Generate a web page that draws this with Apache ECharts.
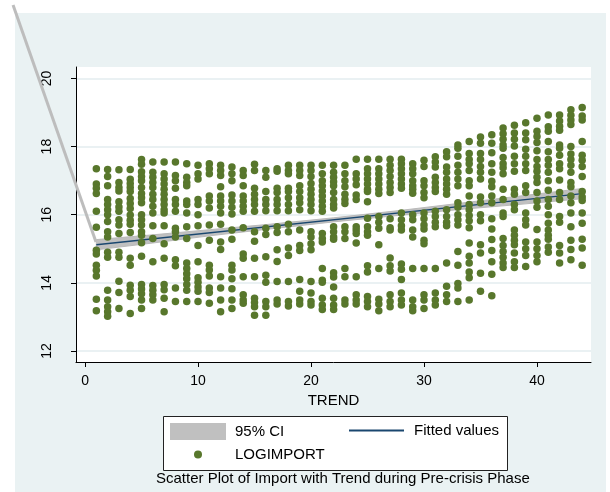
<!DOCTYPE html>
<html><head><meta charset="utf-8">
<script src="https://cdn.jsdelivr.net/npm/echarts@6/dist/echarts.min.js"></script>
<style>
html,body{margin:0;padding:0;background:#fff;}
#bg{position:absolute;left:15px;top:13px;width:591px;height:479px;background:#EAF2F3;}
#chart{position:absolute;left:0;top:0;width:610px;height:492px;}
</style></head><body>
<div id="bg"></div><div id="chart"></div>
<script>
// ---- data ----
const yTicks = [12, 14, 16, 18, 20];
const xTicks = [0, 10, 20, 30, 40];
const trend = [];
for (let t = 1; t <= 44; t++) trend.push(t);
// LOGIMPORT values read per TREND value (index 0 -> TREND 1)
const logImport = [
  [17.35,16.9,16.78,16.62,16.1,15.63,14.96,14.85,14.52,14.37,14.2,13.52,13.18],
  [17.33,17.12,16.85,16.45,16.3,16.15,16.0,15.8,15.5,15.35,14.9,14.75,13.78,13.5,13.3,13.15,13.02],
  [17.32,16.95,16.8,16.7,16.38,16.23,16.1,15.85,15.7,15.45,14.9,14.75,14.05,13.72,13.25],
  [17.33,17.04,16.92,16.8,16.68,16.48,16.33,16.18,15.99,15.84,15.72,15.48,14.72,14.52,13.93,13.78,13.6,13.1],
  [17.62,17.48,17.26,17.12,17.0,16.8,16.62,16.5,16.35,16.0,15.85,15.7,15.5,15.4,15.18,14.78,13.95,13.82,13.68,13.5,13.25],
  [17.55,17.25,17.1,16.95,16.8,16.6,16.45,16.25,16.05,15.68,15.3,14.62,13.92,13.78,13.65,13.5],
  [17.55,17.2,17.05,16.9,16.75,16.6,16.45,16.3,16.15,16.05,15.68,15.15,14.72,13.95,13.8,13.55,13.15],
  [17.55,17.15,17.0,16.78,16.45,16.3,16.1,15.6,15.5,15.35,14.68,14.5,13.85,13.45],
  [17.5,17.1,16.95,16.85,16.4,16.3,16.05,15.65,15.3,14.58,14.42,14.27,14.12,13.95,13.78,13.45],
  [17.45,17.2,17.05,16.45,16.3,16.0,15.68,15.1,14.62,14.15,14.02,13.88,13.75,13.45],
  [17.5,17.35,17.2,16.55,16.4,16.2,15.7,15.25,14.52,14.38,14.2,13.85,13.72,13.4],
  [17.45,17.3,17.15,16.82,16.55,16.4,16.25,16.05,15.72,15.2,14.98,14.18,13.85,13.5,13.15],
  [17.4,17.2,17.0,16.58,16.4,16.22,16.02,15.55,15.28,14.52,14.38,14.12,13.83,13.5,13.25],
  [17.3,17.15,16.85,16.55,16.4,16.25,16.1,15.62,14.85,14.72,14.18,13.65,13.5,13.4],
  [17.48,17.3,16.78,16.6,16.45,16.3,16.1,15.5,15.22,14.72,14.18,13.55,13.42,13.3,13.05],
  [17.3,17.1,16.68,16.45,16.3,16.12,15.6,15.42,14.77,14.22,14.02,13.45,13.3,13.05],
  [17.35,17.28,16.78,16.65,16.45,16.3,16.12,15.65,15.48,14.97,14.63,14.04,13.5,13.38],
  [17.45,17.3,17.2,16.78,16.68,16.5,16.3,16.12,15.72,15.5,15.02,14.8,14.04,13.45,13.32],
  [17.45,17.3,17.15,16.85,16.68,16.5,16.35,16.15,15.55,15.1,14.95,14.1,13.75,13.5,13.38],
  [17.45,17.3,17.12,16.92,16.75,16.6,16.45,16.3,16.12,15.5,15.35,15.15,14.97,14.04,13.7,13.45,13.35],
  [17.45,17.2,17.0,16.85,16.7,16.55,16.4,16.25,16.1,15.45,15.3,15.2,14.42,14.08,14.02,13.55,13.35,13.22],
  [17.45,17.25,17.1,16.97,16.85,16.65,16.45,16.3,16.2,15.65,15.5,15.35,15.28,14.3,14.17,13.88,13.55,13.35,13.22],
  [17.45,17.2,17.0,16.82,16.6,16.45,16.33,15.65,15.5,15.3,14.42,14.18,13.5,13.38],
  [17.63,17.2,17.05,16.88,16.58,16.45,15.65,15.55,15.45,15.17,14.18,13.65,13.5,13.38],
  [17.63,17.35,17.2,17.05,16.9,16.75,16.68,16.38,15.9,15.65,15.5,15.4,14.5,14.32,13.6,13.45,13.3],
  [17.63,17.35,17.2,17.05,16.9,16.75,16.62,15.95,15.78,15.6,15.12,14.42,13.52,13.38,13.18],
  [17.63,17.45,17.3,17.12,16.95,16.8,16.65,15.88,15.62,15.55,14.73,14.5,14.35,13.65,13.45,13.3],
  [17.63,17.5,17.35,17.2,17.05,16.9,16.78,16.05,15.85,15.68,15.55,14.55,14.4,14.1,13.7,13.5,13.35],
  [17.5,17.35,17.2,17.0,16.85,16.75,16.63,16.0,15.85,15.55,15.35,14.42,13.5,13.3,13.18],
  [17.6,17.42,17.0,16.85,16.65,16.5,16.05,15.88,15.7,15.58,15.25,15.15,14.42,13.65,13.5,13.25],
  [17.7,17.55,17.4,17.1,16.95,16.8,16.68,16.1,15.95,15.78,15.65,14.42,13.7,13.5,13.35],
  [17.85,17.7,17.4,17.25,17.05,16.9,16.75,16.6,16.15,15.95,15.78,15.68,14.58,13.9,13.65,13.45],
  [18.05,17.95,17.72,17.45,17.25,17.05,16.85,16.35,16.22,16.0,15.85,15.7,14.92,14.52,13.98,13.85,13.45],
  [18.15,17.8,17.62,17.5,17.3,17.0,16.85,16.55,16.3,16.15,15.98,15.82,15.62,15.17,14.78,14.58,14.32,14.15,13.5],
  [18.28,18.1,17.8,17.62,17.42,17.25,17.05,16.52,16.35,16.0,15.82,15.12,14.88,14.28,13.75],
  [18.35,18.1,17.82,17.5,17.25,16.98,16.82,16.55,16.35,15.88,15.58,15.27,14.95,14.62,14.25,13.62],
  [18.55,18.38,18.22,18.05,17.95,17.68,17.5,17.38,17.2,16.75,16.45,16.05,15.95,15.3,15.1,14.92,14.75,14.58,14.45],
  [18.63,18.4,18.22,18.02,17.72,17.5,17.28,16.75,16.6,16.3,16.15,15.55,15.4,15.25,15.12,14.88,14.62,14.45],
  [18.7,18.4,18.2,17.92,17.72,17.5,17.3,16.85,16.65,16.05,15.85,15.7,15.2,15.0,14.8,14.48],
  [18.83,18.45,18.3,18.12,17.88,17.62,17.42,17.28,17.1,16.95,16.65,16.4,16.22,15.57,15.2,15.0,14.8,14.62],
  [18.93,18.58,18.45,18.15,17.85,17.62,17.45,17.25,17.0,16.72,16.45,16.25,16.0,15.75,15.55,15.4,15.28,15.05,14.9],
  [18.93,18.75,18.6,18.48,18.05,17.95,17.75,17.5,17.35,17.02,16.65,16.45,15.95,15.78,15.1,14.88,14.58],
  [19.08,18.92,18.78,18.65,18.0,17.78,17.62,17.45,17.25,16.95,16.82,16.55,16.35,16.05,15.65,15.25,14.98,14.68],
  [19.15,18.9,18.78,18.15,17.75,17.6,17.42,17.12,16.68,16.52,16.42,16.05,15.75,15.28,15.02,14.52]
];
// fitted line and 95% CI band
const fitX = [1, 44];
const fitY = [15.12, 16.62];
const ciX    = [1, 6, 11, 16, 22, 28, 33, 38, 44];
const ciLow  = [14.97, 15.17, 15.38, 15.57, 15.79, 15.99, 16.15, 16.29, 16.47];
const ciHigh = [15.27, 15.41, 15.56, 15.71, 15.91, 16.13, 16.33, 16.53, 16.77];
// stray CI outline segment leaving the plot region toward the top-left
const strayX = [0.97, -6.37];
const strayY = [15.2, 22.16];

// ---- chart ----
const FONT = 'Liberation Sans, Arial, sans-serif';
const scatterData = [];
trend.forEach((t, i) => logImport[i].forEach(v => scatterData.push([t, v])));

const chart = echarts.init(document.getElementById('chart'), null, {renderer: 'canvas'});
chart.setOption({
  animation: false,
  backgroundColor: 'transparent',
  textStyle: {fontFamily: FONT},
  grid: {left: 76, top: 67, right: 19, bottom: 130, show: true, backgroundColor: '#ffffff', borderWidth: 0},
  xAxis: {
    type: 'value', min: -0.8, max: 44.78,
    name: 'TREND', nameLocation: 'middle', nameGap: 29,
    nameTextStyle: {fontSize: 15, color: '#000', fontFamily: FONT},
    axisLine: {show: true, onZero: false, lineStyle: {color: '#000', width: 1}},
    axisTick: {show: true, length: 5, customValues: xTicks, lineStyle: {color: '#000'}},
    axisLabel: {customValues: xTicks, fontSize: 14, color: '#000', margin: 12, fontFamily: FONT},
    splitLine: {show: false}
  },
  yAxis: {
    type: 'value', min: 11.676, max: 20.338,
    axisLine: {show: true, onZero: false, lineStyle: {color: '#000', width: 1}},
    axisTick: {show: true, length: 5, customValues: yTicks, lineStyle: {color: '#000'}},
    axisLabel: {customValues: yTicks, rotate: 90, fontSize: 14, color: '#000', margin: 22, fontFamily: FONT},
    splitLine: {show: true, lineStyle: {color: '#E3ECEF', width: 1.5}}
  },
  legend: [
    {data: ['95% CI'], left: 170, top: 423, padding: 0, itemWidth: 56, itemHeight: 17, itemGap: 0,
     icon: 'rect', textStyle: {fontSize: 15, color: '#000', fontFamily: FONT, padding: [0, 0, 0, 4]}},
    {data: ['Fitted values'], left: 349, top: 423, padding: 0, itemWidth: 55, itemHeight: 2, itemGap: 0,
     icon: 'rect', textStyle: {fontSize: 15, color: '#000', fontFamily: FONT, padding: [0, 0, 0, 5]}},
    {data: ['LOGIMPORT'], left: 194, top: 447, padding: 0, itemWidth: 56, itemHeight: 8, itemGap: 0,
     icon: 'circle', textStyle: {fontSize: 15, color: '#000', fontFamily: FONT, padding: [0, 0, 0, 4]}}
  ],
  title: {
    text: 'Scatter Plot of Import with Trend during Pre-crisis Phase',
    left: 156, top: 471, padding: 0,
    textStyle: {fontSize: 15, fontWeight: 'normal', color: '#000', fontFamily: FONT}
  },
  graphic: [
    {type: 'rect', left: 163, top: 416, shape: {width: 344, height: 54},
     style: {fill: '#fff', stroke: '#222', lineWidth: 1}, z: -1}
  ],
  series: [
    {
      name: '95% CI', type: 'custom', clip: false, silent: true,
      itemStyle: {color: '#C0C0C0'},
      data: ciX.map((x, i) => [x, ciLow[i], ciHigh[i]]),
      encode: {x: 0, y: [1, 2]},
      renderItem: function (params, api) {
        if (params.dataIndex !== 0) return null;
        const pts = [];
        for (let i = 0; i < ciX.length; i++) pts.push(api.coord([ciX[i], ciLow[i]]));
        for (let i = ciX.length - 1; i >= 0; i--) pts.push(api.coord([ciX[i], ciHigh[i]]));
        const stray = strayX.map((x, i) => api.coord([x, strayY[i]]));
        return {type: 'group', children: [
          {type: 'polygon', shape: {points: pts}, style: {fill: '#C0C0C0', stroke: '#BABABA', lineWidth: 1}},
          {type: 'polyline', shape: {points: stray}, style: {stroke: '#BDBDBD', lineWidth: 3, fill: null}}
        ]};
      },
      z: 2
    },
    {
      name: 'Fitted values', type: 'line', showSymbol: false, silent: true,
      data: fitX.map((x, i) => [x, fitY[i]]),
      itemStyle: {color: '#1A476F'},
      lineStyle: {color: '#1A476F', width: 1.5}, z: 3
    },
    {
      name: 'LOGIMPORT', type: 'scatter', symbol: 'circle', symbolSize: 7.5, silent: true,
      itemStyle: {color: '#58772C', opacity: 1},
      data: scatterData, z: 4
    }
  ]
});
</script>
</body></html>
